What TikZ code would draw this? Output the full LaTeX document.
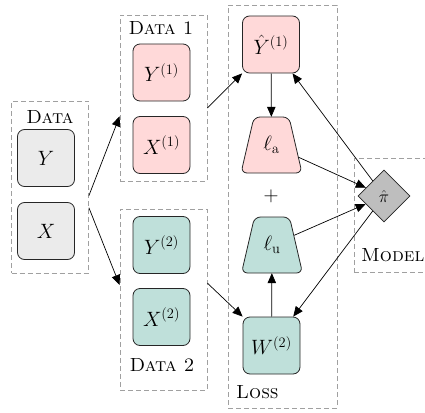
\documentclass[tikz,border=0pt]{standalone}
\usetikzlibrary{arrows.meta,shapes.geometric,calc}
\definecolor{cgray}{HTML}{EBEBEB}
\definecolor{cpink}{HTML}{FFD9D9}
\definecolor{cteal}{HTML}{BFE0DA}
\definecolor{cdiam}{HTML}{BEBEBE}
\definecolor{cdash}{HTML}{A0A0A0}
\begin{document}
\begin{tikzpicture}[x=1pt,y=-1pt,
  box/.style={draw=black!85, line width=0.8pt, rounded corners=7pt,
    minimum width=57pt, minimum height=57pt, inner sep=0pt,
    font=\fontsize{21}{25}\selectfont},
  trapnode/.style={minimum height=56pt, inner sep=0pt,
    font=\fontsize{21}{25}\selectfont},
  trapline/.style={draw=black!85, line width=0.8pt, rounded corners=6pt},
  group/.style={draw=cdash, dash pattern=on 5pt off 3pt, line width=0.8pt,
    inner sep=0pt},
  lbl/.style={font=\fontsize{19}{23}\selectfont\scshape, inner sep=0pt},
  arr/.style={-{Triangle[length=10pt,width=8.5pt]}, line width=0.7pt},
]
\useasboundingbox (0,0) rectangle (425,412);
% group boxes
\node[group, minimum width=77pt, minimum height=172pt] (data) at (50,187) {};
\node[group, minimum width=87pt, minimum height=166pt] (data1) at (163.5,98) {};
\node[group, minimum width=87pt, minimum height=181pt] (data2) at (163.5,299.5) {};
\node[group, minimum width=109pt, minimum height=403pt] (loss) at (282.5,206.5) {};
\node[group, minimum width=100pt, minimum height=114pt] (model) at (404,215) {};
% labels
\node[lbl] (ldata) at (50,117) {Data};
\node[lbl] (ldata1) at (161,28) {Data 1};
\node[lbl] (ldata2) at (162,365) {Data 2};
\node[lbl, anchor=west] (lloss) at (236,392) {Loss};
\node[lbl, anchor=west] (lmodel) at (361,255) {Model};
% data nodes
\node[box, fill=cgray] (y) at (46,158) {$Y$};
\node[box, fill=cgray] (x) at (46,231) {$X$};
\node[box, fill=cpink] (y1) at (161.5,72.5) {$Y^{(1)}$};
\node[box, fill=cpink] (x1) at (161.5,145) {$X^{(1)}$};
\node[box, fill=cteal] (y2) at (161.5,245) {$Y^{(2)}$};
\node[box, fill=cteal] (x2) at (161.5,317) {$X^{(2)}$};
% loss nodes
\node[box, fill=cpink] (yhat) at (271,44.5) {$\hat{Y}^{(1)}$};
\path[trapline, fill=cpink] (241,173) -- (254,117) -- (289,117) -- (302,173) -- cycle;
\node[trapnode, minimum width=54pt] (la) at (271.5,145) {$\ell_{\mathrm{a}}$};
\node[font=\fontsize{21}{25}\selectfont, inner sep=0pt] (plus) at (271,196) {$+$};
\path[trapline, fill=cteal] (241.5,273) -- (254.5,217) -- (289.5,217) -- (302.5,273) -- cycle;
\node[trapnode, minimum width=44pt] (lu) at (272,245) {$\ell_{\mathrm{u}}$};
\node[box, fill=cteal] (w) at (271.5,345.5) {$W^{(2)}$};
% model
\node[diamond, draw=black!85, line width=0.8pt, fill=cdiam, minimum width=52pt,
  minimum height=52pt, inner sep=0pt, font=\fontsize{19}{23}\selectfont] (pi) at (384,196) {$\hat{\pi}$};
% connector points
\coordinate (s1) at ($(data.north east)!0.55!(data.south east)$);
\coordinate (s2) at ($(data.north east)!0.62!(data.south east)$);
\coordinate (t1) at ($(data1.north west)!0.61!(data1.south west)$);
\coordinate (t2) at ($(data2.north west)!0.42!(data2.south west)$);
\coordinate (u1) at ($(data1.north east)!0.56!(data1.south east)$);
\coordinate (u2) at ($(data2.north east)!0.41!(data2.south east)$);
% connectors
\draw[arr] (s1) -- (t1);
\draw[arr] (s2) -- (t2);
\draw[arr] (u1) -- (yhat.south west);
\draw[arr] (u2) -- (w.north west);
\draw[arr] (yhat) -- (la);
\draw[arr] (w) -- (lu);
\draw[arr] (la) -- (pi);
\draw[arr] (lu) -- (pi);
\draw[arr] (pi) -- (yhat);
\draw[arr] (pi) -- (w);
\end{tikzpicture}
\end{document}
